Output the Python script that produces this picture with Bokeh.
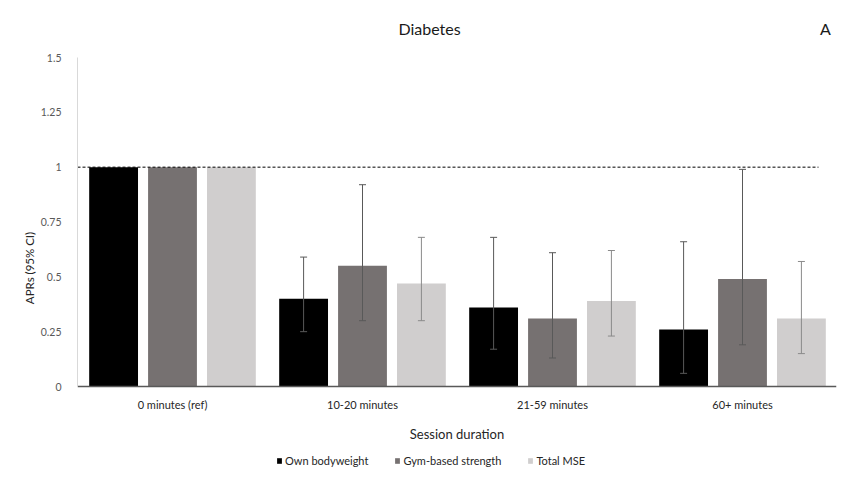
from bokeh.plotting import figure
from bokeh.models import (Range1d, FixedTicker, Whisker, ColumnDataSource, LinearAxis,
                          Legend, LegendItem, Title)
from bokeh.transform import dodge
from bokeh.embed import file_html
from bokeh.resources import INLINE

# ---- data ----
categories = ["0 minutes (ref)", "10-20 minutes", "21-59 minutes", "60+ minutes"]
series_names = ["Own bodyweight", "Gym-based strength", "Total MSE"]
own_bodyweight = [1.0, 0.40, 0.36, 0.26]
own_bodyweight_lo = [None, 0.25, 0.17, 0.06]
own_bodyweight_hi = [None, 0.59, 0.68, 0.66]
gym_strength = [1.0, 0.55, 0.31, 0.49]
gym_strength_lo = [None, 0.30, 0.13, 0.19]
gym_strength_hi = [None, 0.92, 0.61, 0.99]
total_mse = [1.0, 0.47, 0.39, 0.31]
total_mse_lo = [None, 0.30, 0.23, 0.15]
total_mse_hi = [None, 0.68, 0.62, 0.57]
y_ticks = [0, 0.25, 0.5, 0.75, 1, 1.25, 1.5]
y_tick_labels = ["0", "0.25", "0.5", "0.75", "1", "1.25", "1.5"]
reference_value = 1.0
title_texts = ["Diabetes", "A"]

FONT = "Lato"
bar_colors = ["#000000", "#767171", "#d0cece"]
err_colors = ["#595959", "#595959", "#8a8a8a"]

W, H = 843, 478
LEFT, TOP, ZERO_Y = 77, 57, 386      # frame left, frame top, pixel row of y = 0
PX = 190.0                            # pixels per category
PY = (ZERO_Y - TOP) / 1.5             # pixels per unit of y
p = figure(width=W, height=H, output_backend="svg", toolbar_location=None,
           x_range=Range1d(0, (836 - LEFT) / PX),
           y_range=Range1d(-(H - ZERO_Y) / PY, 1.5),
           min_border_left=LEFT, min_border_right=W - 836, min_border_top=TOP,
           min_border_bottom=0)
p.outline_line_color = None
p.grid.visible = False
p.background_fill_color = "white"

xc = [i + 0.5 for i in range(len(categories))]
series = [
    (own_bodyweight, own_bodyweight_lo, own_bodyweight_hi),
    (gym_strength, gym_strength_lo, gym_strength_hi),
    (total_mse, total_mse_lo, total_mse_hi),
]
offsets = [-0.31, 0.0, 0.31]
items = []
for k, (vals, lo, hi) in enumerate(series):
    src = ColumnDataSource(dict(x=xc, top=vals))
    r = p.vbar(x=dodge("x", offsets[k]), top="top", bottom=0, width=0.257,
               source=src, fill_color=bar_colors[k], line_color=None)
    items.append(LegendItem(label=series_names[k], renderers=[r]))
    ex = [xc[i] for i in range(len(vals)) if lo[i] is not None]
    elo = [v for v in lo if v is not None]
    ehi = [v for v in hi if v is not None]
    esrc = ColumnDataSource(dict(x=ex, lower=elo, upper=ehi))
    w = Whisker(base=dodge("x", offsets[k]), lower="lower", upper="upper", source=esrc,
                line_color=err_colors[k], line_width=1, level="overlay")
    w.upper_head.size = 7
    w.lower_head.size = 7
    w.upper_head.line_color = err_colors[k]
    w.lower_head.line_color = err_colors[k]
    p.add_layout(w)

p.segment(x0=0, y0=reference_value, x1=3.9, y1=reference_value,
          line_color="black", line_width=1, line_dash="3 2")

# x axis pinned at y = 0
xa = p.xaxis[0]
xa.fixed_location = 0
xa.ticker = FixedTicker(ticks=xc)
xa.major_label_overrides = {x: c for x, c in zip(xc, categories)}
xa.major_tick_line_color = None
xa.minor_tick_line_color = None
xa.axis_line_color = "#595959"
xa.axis_line_width = 1.5
xa.major_label_text_font = FONT
xa.major_label_text_font_size = "11px"
xa.major_label_text_color = "#262626"
xa.major_label_standoff = 5
xa.axis_label = "Session duration"
xa.axis_label_text_font = FONT
xa.axis_label_text_font_size = "13px"
xa.axis_label_text_font_style = "normal"
xa.axis_label_text_color = "#262626"
xa.axis_label_standoff = 12

ya = p.yaxis[0]
ya.bounds = (0, 1.5)
ya.ticker = FixedTicker(ticks=y_ticks)
ya.major_label_overrides = {t: l for t, l in zip(y_ticks, y_tick_labels)}
ya.major_tick_line_color = None
ya.minor_tick_line_color = None
ya.axis_line_color = "#d9d9d9"
ya.major_label_text_font = FONT
ya.major_label_text_font_size = "10.5px"
ya.major_label_text_color = "#595959"
ya.major_label_standoff = 10

# y axis title, centred on the 0-1.5 span
frame_mid = TOP + (H - TOP) / 2
p.add_layout(Title(text="APRs (95% CI)", align="center", offset=frame_mid - (TOP + ZERO_Y) / 2,
                   standoff=4, text_font=FONT, text_font_size="11.5px",
                   text_font_style="normal", text_color="#262626"), "left")

# title row: "Diabetes" centred at page x 429, panel letter "A" at 825
title_pos = [(429 - LEFT) / PX, (825 - LEFT) / PX]
ta = LinearAxis(ticker=FixedTicker(ticks=title_pos),
                major_label_overrides={t: s for t, s in zip(title_pos, title_texts)},
                axis_line_color=None, major_tick_line_color=None,
                minor_tick_line_color=None, major_label_standoff=14,
                major_label_text_font=FONT, major_label_text_font_size="16px",
                major_label_text_color="#1a1a1a")
p.add_layout(ta, "above")

legend = Legend(items=items, orientation="horizontal", location=(276 - LEFT, 11),
                glyph_width=6, glyph_height=7, label_standoff=3, spacing=26,
                padding=0, margin=0, border_line_color=None, background_fill_alpha=0,
                label_text_font=FONT, label_text_font_size="11px",
                label_text_color="#262626", label_height=12)
p.add_layout(legend)

open("out.html", "w").write(file_html(p, INLINE))
